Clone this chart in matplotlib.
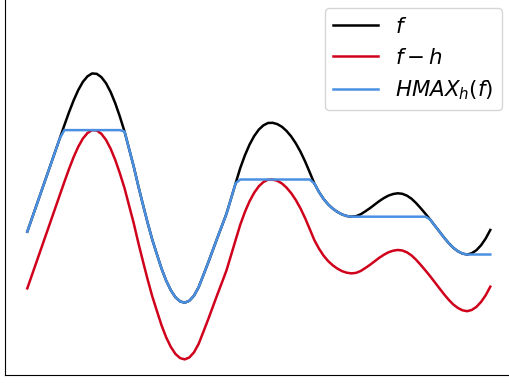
"""h-maxima transform of a 1-D signal: f, f - h and HMAX_h(f) = R_f(f - h)."""
import matplotlib
matplotlib.use("Agg")
import matplotlib.pyplot as plt
import numpy as np

# sample positions and signal values
x = np.linspace(0.0, 10.0, 101)
f = np.array([
    1.205, 1.439, 1.674, 1.908, 2.143, 2.377, 2.612, 2.847, 3.081, 3.309,
    3.519, 3.702, 3.847, 3.945, 3.996, 3.989, 3.931, 3.824, 3.668, 3.469,
    3.233, 2.972, 2.661, 2.349, 2.002, 1.676, 1.358, 1.062, 0.804, 0.552,
    0.340, 0.171, 0.048, -0.025, -0.048, -0.014, 0.076, 0.224, 0.432, 0.644,
    0.864, 1.085, 1.300, 1.517, 1.787, 2.060, 2.328, 2.552, 2.741, 2.891,
    3.005, 3.081, 3.122, 3.125, 3.102, 3.055, 2.981, 2.884, 2.762, 2.616,
    2.444, 2.252, 2.055, 1.905, 1.781, 1.684, 1.610, 1.552, 1.508, 1.481,
    1.469, 1.478, 1.511, 1.563, 1.619, 1.681, 1.743, 1.797, 1.841, 1.869,
    1.882, 1.873, 1.840, 1.785, 1.707, 1.616, 1.520, 1.420, 1.314, 1.208,
    1.102, 1.005, 0.921, 0.859, 0.818, 0.802, 0.824, 0.878, 0.965, 1.083,
    1.235,
])
h = 1.0

labels = ["$f$", "$f-h$", "$HMAX_h(f)$"]
colors = ["black", "#d0021b", "#4a90e2"]


def reconstruct(marker, mask):
    """Grayscale reconstruction by dilation of marker under mask (1-D)."""
    g = np.minimum(marker, mask)
    while True:
        p = np.pad(g, 1, mode="edge")
        nxt = np.minimum(np.maximum(np.maximum(p[:-2], p[1:-1]), p[2:]), mask)
        if np.array_equal(nxt, g):
            return g
        g = nxt


def main():
    hmax = reconstruct(f - h, f)

    fig = plt.figure(figsize=(5.1, 3.83), dpi=100)
    # axes run past the top/right edge of the canvas
    ax = fig.add_axes([0.0094, 0.0196, 1.0206, 1.0304])
    for y, lab, c in zip([f, f - h, hmax], labels, colors):
        ax.plot(x, y, color=c, lw=1.8, label=lab)

    ax.set_xlim(-0.486, 10.756)
    ax.set_ylim(-1.332, 5.629)
    ax.set_xticks([])
    ax.set_yticks([])

    ax.legend(loc="upper right", fontsize=15.4, borderaxespad=0,
              handlelength=2.1,
              bbox_to_anchor=(502.3 / 510, 1 - 8.3 / 383),
              bbox_transform=fig.transFigure)
    fig.savefig("out.png", dpi=100)


if __name__ == "__main__":
    main()
